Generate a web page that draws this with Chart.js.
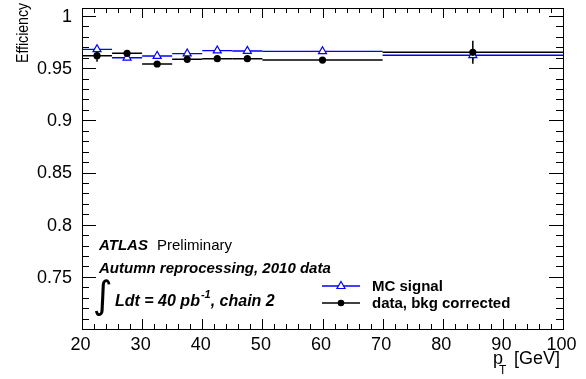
<!DOCTYPE html>
<html>
<head>
<meta charset="utf-8">
<script src="https://cdn.jsdelivr.net/npm/chart.js@4"></script>
<style>
  body { margin: 0; background: #fff; }
  #effChart { display: block; }
</style>
</head>
<body>
<canvas id="effChart" width="586" height="379"></canvas>
<script>
// pT bins [GeV]
const binLow = [20, 25, 30, 35, 40, 45, 50, 70];
const binHigh = [25, 30, 35, 40, 45, 50, 70, 100];
const binCenter = [22.5, 27.5, 32.5, 37.5, 42.5, 47.5, 60, 85];

// MC signal efficiency
const mcEff = [0.968, 0.960, 0.9617, 0.964, 0.9668, 0.9665, 0.9662, 0.9624];
const mcErr = [0.001, 0.001, 0.001, 0.001, 0.001, 0.001, 0.001, 0.005];

// data, background corrected
const dataEff = [0.962, 0.9643, 0.954, 0.9585, 0.9591, 0.9591, 0.9578, 0.9652];
const dataErr = [0.0058, 0.002, 0.002, 0.002, 0.002, 0.002, 0.002, 0.011];

const xTickLabels = [20, 30, 40, 50, 60, 70, 80, 90, 100];
const yTickLabels = [0.75, 0.8, 0.85, 0.9, 0.95, 1];
const xMinorStep = 2;
const yMinorStep = 0.01;

const FONT = '"Liberation Sans", Arial, Helvetica, sans-serif';
const BLUE = "#0000ff";

const errorBars = {
  id: "errorBars",
  beforeDatasetsDraw(chart) {
    const ctx = chart.ctx;
    const xs = chart.scales.x, ys = chart.scales.y;
    const series = [
      { eff: mcEff, err: mcErr, color: BLUE, width: 1.3 },
      { eff: dataEff, err: dataErr, color: "#000", width: 1.5 }
    ];
    ctx.save();
    series.forEach(s => {
      ctx.strokeStyle = s.color;
      ctx.lineWidth = s.width;
      s.eff.forEach((v, i) => {
        const y = ys.getPixelForValue(v);
        const xc = xs.getPixelForValue(binCenter[i]);
        ctx.beginPath();
        ctx.moveTo(xs.getPixelForValue(binLow[i]), y);
        ctx.lineTo(xs.getPixelForValue(binHigh[i]), y);
        ctx.moveTo(xc, ys.getPixelForValue(v - s.err[i]));
        ctx.lineTo(xc, ys.getPixelForValue(v + s.err[i]));
        ctx.stroke();
      });
    });
    ctx.restore();
  }
};

const frameAndText = {
  id: "frameAndText",
  afterDraw(chart) {
    const ctx = chart.ctx;
    const a = chart.chartArea;
    const xs = chart.scales.x, ys = chart.scales.y;
    ctx.save();
    ctx.strokeStyle = "#000";
    ctx.lineWidth = 1;
    ctx.strokeRect(Math.round(a.left) + 0.5, Math.round(a.top) + 0.5,
      Math.round(a.right - a.left), Math.round(a.bottom - a.top));

    // ticks, pointing inwards on all four sides
    ctx.beginPath();
    for (let v = 20; v <= 100 + 1e-9; v += xMinorStep) {
      const x = Math.round(xs.getPixelForValue(v)) + 0.5;
      const len = v % 10 === 0 ? 10 : 5;
      ctx.moveTo(x, a.bottom); ctx.lineTo(x, a.bottom - len);
      ctx.moveTo(x, a.top); ctx.lineTo(x, a.top + len);
    }
    for (let k = 0; k <= 30; k++) {
      const v = 0.70 + k * yMinorStep;
      const y = Math.round(ys.getPixelForValue(v)) + 0.5;
      const len = k % 5 === 0 ? 14 : 7;
      ctx.moveTo(a.left, y); ctx.lineTo(a.left + len, y);
      ctx.moveTo(a.right, y); ctx.lineTo(a.right - len, y);
    }
    ctx.stroke();

    // tick labels
    ctx.fillStyle = "#000";
    ctx.font = `18px ${FONT}`;
    ctx.textAlign = "center";
    ctx.textBaseline = "alphabetic";
    xTickLabels.forEach(v => ctx.fillText(String(v), xs.getPixelForValue(v) - 1.5, 350));
    ctx.textAlign = "right";
    ctx.textBaseline = "middle";
    yTickLabels.forEach(v => ctx.fillText(String(v), 72, ys.getPixelForValue(v) + 1));

    // axis titles
    ctx.textBaseline = "alphabetic";
    ctx.textAlign = "left";
    ctx.fillText("p", 493, 364);
    ctx.font = `12px ${FONT}`;
    ctx.fillText("T", 499, 374);
    ctx.font = `18px ${FONT}`;
    ctx.fillText("[GeV]", 514, 364);

    ctx.save();
    ctx.translate(28, 3);
    ctx.rotate(-Math.PI / 2);
    ctx.textAlign = "right";
    ctx.font = `16px ${FONT}`;
    ctx.scale(0.88, 1);
    ctx.fillText("Efficiency", 0, 0);
    ctx.restore();

    // ATLAS label block
    ctx.textAlign = "left";
    ctx.font = `italic bold 15px ${FONT}`;
    ctx.fillText("ATLAS", 99, 250);
    ctx.font = `15px ${FONT}`;
    ctx.fillText("Preliminary", 157, 250);
    ctx.font = `italic bold 15px ${FONT}`;
    ctx.fillText("Autumn reprocessing, 2010 data", 99, 273);

    ctx.font = `38px "DejaVu Sans", ${FONT}`;
    ctx.fillText("\u222B", 93, 308);

    ctx.font = `italic bold 16px ${FONT}`;
    let x = 115;
    ctx.fillText("Ldt = 40 pb", x, 306);
    x += ctx.measureText("Ldt = 40 pb").width;
    ctx.font = `italic bold 11px ${FONT}`;
    ctx.fillText("-1", x + 1, 298);
    x += ctx.measureText("-1").width + 1;
    ctx.font = `italic bold 16px ${FONT}`;
    ctx.fillText(", chain 2", x, 306);

    // legend
    const legend = [
      { label: "MC signal", color: BLUE, y: 286, tri: true },
      { label: "data, bkg corrected", color: "#000", y: 303, tri: false }
    ];
    ctx.font = `bold 15px ${FONT}`;
    ctx.textBaseline = "middle";
    legend.forEach(e => {
      ctx.strokeStyle = e.color;
      ctx.lineWidth = 1.5;
      ctx.beginPath();
      ctx.moveTo(322, e.y); ctx.lineTo(360, e.y);
      ctx.stroke();
      ctx.lineWidth = 1.2;
      ctx.beginPath();
      if (e.tri) {
        ctx.fillStyle = "#fff";
        ctx.moveTo(341, e.y - 4.5);
        ctx.lineTo(345, e.y + 2.5);
        ctx.lineTo(337, e.y + 2.5);
        ctx.closePath();
        ctx.fill();
        ctx.stroke();
      } else {
        ctx.fillStyle = "#000";
        ctx.arc(341, e.y, 3.3, 0, Math.PI * 2);
        ctx.fill();
      }
      ctx.fillStyle = "#000";
      ctx.fillText(e.label, 372, e.y + 1);
    });
    ctx.restore();
  }
};

new Chart(document.getElementById("effChart"), {
  type: "scatter",
  data: {
    datasets: [
      {
        label: "data, bkg corrected",
        data: binCenter.map((x, i) => ({ x, y: dataEff[i] })),
        pointStyle: "circle",
        pointRadius: 3.6,
        backgroundColor: "#000",
        borderColor: "#000",
        borderWidth: 0
      },
      {
        label: "MC signal",
        data: binCenter.map((x, i) => ({ x, y: mcEff[i] })),
        pointStyle: "triangle",
        pointRadius: 4.6,
        backgroundColor: "#fff",
        borderColor: BLUE,
        borderWidth: 1.2
      }
    ]
  },
  options: {
    responsive: false,
    animation: false,
    devicePixelRatio: 1,
    layout: { padding: { left: 82, right: 23, top: 8, bottom: 50 } },
    plugins: { legend: { display: false }, tooltip: { enabled: false } },
    scales: {
      x: { type: "linear", min: 20, max: 100, display: false },
      y: { type: "linear", min: 0.70, max: 1.0077, display: false }
    }
  },
  plugins: [errorBars, frameAndText]
});
</script>
</body>
</html>
